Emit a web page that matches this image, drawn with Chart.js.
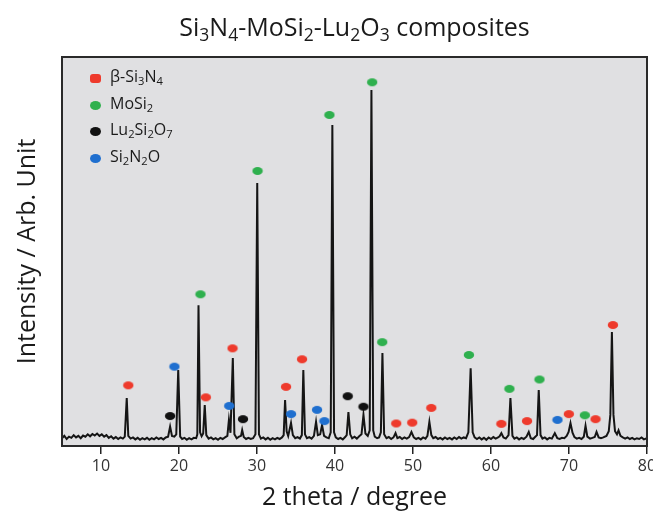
<!DOCTYPE html>
<html>
<head>
<meta charset="utf-8">
<script src="https://cdn.jsdelivr.net/npm/chart.js@4/dist/chart.umd.min.js"></script>
<style>
  html, body { margin: 0; padding: 0; background: #fff; }
  body { font-family: "Open Sans", "Noto Sans", sans-serif; color: #1a1a1a; }
  .wrap { position: relative; width: 653px; height: 514px; overflow: hidden; }
  .title { position: absolute; left: 62px; width: 585px; top: 9px; text-align: center; font-size: 25px; }
  sub { font-size: 70%; vertical-align: -0.28em; line-height: 0; }
  .legend { position: absolute; left: 90px; top: 63px; font-size: 16px; }
  .legend .row { height: 26.7px; line-height: 26px; white-space: nowrap; }
  .legend .mk { display: inline-block; width: 11px; height: 9px; border-radius: 50%; margin-right: 9px; vertical-align: -1px; }
</style>
</head>
<body>
<div class="wrap">
  <canvas id="xrd" width="653" height="514"></canvas>
  <div class="title">Si<sub>3</sub>N<sub>4</sub>-MoSi<sub>2</sub>-Lu<sub>2</sub>O<sub>3</sub> composites</div>
  <div class="legend">
    <div class="row"><span class="mk" style="background:#ee3a2c;border-radius:3px"></span>β-Si<sub>3</sub>N<sub>4</sub></div>
    <div class="row"><span class="mk" style="background:#2fb04e"></span>MoSi<sub>2</sub></div>
    <div class="row"><span class="mk" style="background:#111"></span>Lu<sub>2</sub>Si<sub>2</sub>O<sub>7</sub></div>
    <div class="row"><span class="mk" style="background:#1f6fcf"></span>Si<sub>2</sub>N<sub>2</sub>O</div>
  </div>
</div>
<script>
// x ticks (2 theta, degree)
const xTicks = [10, 20, 30, 40, 50, 60, 70, 80];

const scan = [
  [5.0, 2.0], [5.3, 2.6], [5.6, 1.8], [5.9, 2.4], [6.2, 2.1], [6.5, 2.8], [6.8, 2.2], [7.1, 2.6],
  [7.4, 2.0], [7.7, 2.7], [8.0, 2.4], [8.3, 3.0], [8.6, 2.5], [8.9, 3.1], [9.2, 2.7], [9.5, 3.2],
  [9.8, 2.6], [10.1, 3.0], [10.4, 2.4], [10.7, 2.8], [11.0, 2.1], [11.3, 2.5], [11.6, 1.9], [11.9, 2.3],
  [12.2, 1.8], [12.5, 2.2], [12.8, 1.9], [13.05, 2.4], [13.3, 12.3], [13.5, 2.6], [13.8, 1.9], [14.1, 2.2],
  [14.4, 1.7], [14.7, 2.1], [15.0, 1.6], [15.3, 2.0], [15.6, 1.7], [15.9, 2.1], [16.2, 1.6], [16.5, 2.0],
  [16.8, 1.7], [17.1, 2.2], [17.4, 1.8], [17.7, 2.1], [18.0, 1.7], [18.3, 2.2], [18.6, 2.4], [18.86, 5.0],
  [19.1, 2.6], [19.4, 2.4], [19.65, 3.0], [19.9, 19.5], [20.15, 2.4], [20.4, 1.8], [20.7, 2.1], [21.0, 1.6],
  [21.3, 2.0], [21.6, 1.7], [21.9, 2.1], [22.2, 2.0], [22.35, 3.0], [22.5, 36.2], [22.7, 3.5], [22.9, 2.5],
  [23.1, 3.2], [23.3, 10.5], [23.5, 2.8], [23.8, 1.9], [24.1, 2.2], [24.4, 1.7], [24.7, 2.0], [25.0, 1.6],
  [25.3, 2.1], [25.6, 1.8], [25.9, 2.2], [26.2, 2.6], [26.4, 6.7], [26.6, 3.4], [26.9, 22.6], [27.1, 3.0],
  [27.4, 2.0], [27.7, 2.4], [27.95, 2.6], [28.1, 4.1], [28.3, 2.3], [28.6, 1.8], [28.9, 2.1], [29.2, 1.8],
  [29.5, 2.0], [29.8, 3.0], [30.03, 67.6], [30.25, 3.0], [30.5, 1.9], [30.8, 2.2], [31.1, 1.7], [31.4, 2.1],
  [31.7, 1.6], [32.0, 2.0], [32.3, 1.7], [32.6, 2.1], [32.9, 1.8], [33.2, 2.2], [33.42, 2.8], [33.6, 11.8],
  [33.8, 3.8], [34.0, 2.6], [34.36, 5.9], [34.6, 2.8], [34.9, 2.0], [35.2, 2.3], [35.5, 1.9], [35.75, 2.8],
  [35.94, 19.5], [36.15, 3.0], [36.4, 2.0], [36.7, 2.3], [37.0, 1.9], [37.3, 2.6], [37.57, 6.2], [37.8, 2.8],
  [38.1, 3.0], [38.34, 5.4], [38.6, 2.6], [38.9, 2.2], [39.2, 2.0], [39.45, 3.5], [39.66, 82.5], [39.88, 3.5],
  [40.1, 2.2], [40.4, 1.8], [40.7, 2.1], [41.0, 1.7], [41.3, 2.3], [41.5, 2.8], [41.72, 8.7], [41.95, 3.0],
  [42.2, 2.0], [42.5, 2.4], [42.8, 1.9], [43.1, 2.5], [43.4, 3.0], [43.65, 8.0], [43.9, 3.2], [44.2, 2.6],
  [44.45, 4.0], [44.67, 91.5], [44.9, 4.0], [45.1, 2.4], [45.4, 2.0], [45.65, 2.2], [45.88, 3.5], [46.08, 23.9],
  [46.3, 3.0], [46.6, 2.0], [46.9, 2.3], [47.2, 1.8], [47.5, 2.2], [47.76, 3.3], [48.0, 2.0], [48.3, 2.3],
  [48.6, 1.8], [48.9, 2.2], [49.2, 1.9], [49.5, 2.3], [49.8, 3.6], [50.1, 2.2], [50.4, 1.8], [50.7, 2.1],
  [51.0, 1.7], [51.3, 2.2], [51.6, 1.9], [51.85, 2.6], [52.1, 6.2], [52.35, 2.8], [52.6, 2.0], [52.9, 2.3],
  [53.2, 1.8], [53.5, 2.1], [53.8, 1.7], [54.1, 2.2], [54.4, 1.8], [54.7, 2.1], [55.0, 1.7], [55.3, 2.2],
  [55.6, 1.8], [55.9, 2.3], [56.2, 1.9], [56.5, 2.2], [56.8, 2.0], [57.1, 3.5], [57.39, 20.0], [57.65, 3.5],
  [57.9, 2.2], [58.2, 1.8], [58.5, 2.2], [58.8, 1.7], [59.1, 2.1], [59.4, 1.6], [59.7, 2.2], [60.0, 1.8],
  [60.3, 2.3], [60.6, 1.9], [60.9, 2.2], [61.1, 2.5], [61.33, 3.3], [61.6, 2.2], [61.9, 1.9], [62.25, 2.8],
  [62.49, 12.3], [62.75, 2.6], [63.0, 1.9], [63.3, 2.2], [63.6, 1.7], [63.9, 2.1], [64.2, 1.8], [64.55, 2.4],
  [64.84, 3.6], [65.1, 2.0], [65.4, 1.8], [65.65, 2.3], [65.9, 2.8], [66.12, 14.4], [66.35, 2.8], [66.6, 1.9],
  [66.9, 2.2], [67.2, 1.7], [67.5, 2.1], [67.8, 1.9], [68.18, 3.3], [68.5, 2.0], [68.8, 1.8], [69.1, 2.1],
  [69.4, 2.0], [69.7, 2.6], [69.95, 3.6], [70.19, 5.9], [70.45, 3.4], [70.7, 2.3], [71.0, 1.9], [71.3, 2.1],
  [71.6, 1.8], [71.9, 2.4], [72.12, 5.2], [72.35, 2.4], [72.7, 1.9], [73.0, 2.1], [73.3, 2.3], [73.53, 3.6],
  [73.8, 2.2], [74.1, 2.0], [74.4, 2.2], [74.8, 2.6], [75.1, 3.8], [75.3, 8.0], [75.5, 29.3], [75.7, 8.0],
  [75.9, 3.8], [76.15, 3.0], [76.35, 4.0], [76.6, 2.6], [76.9, 2.2], [77.2, 1.9], [77.5, 2.2], [77.8, 1.8],
  [78.1, 2.1], [78.4, 1.7], [78.7, 2.0], [79.0, 1.8], [79.3, 2.2], [79.6, 1.7], [80.0, 2.0]
];

// phase markers, placed just above the peaks [2 theta, intensity]
const betaSi3N4 = [[13.5, 15.6], [23.44, 12.5], [26.86, 25.1], [33.72, 15.2], [35.77, 22.3], [47.85, 5.8],
  [49.9, 6.0], [52.34, 9.8], [61.33, 5.7], [64.62, 6.4], [69.98, 8.2], [73.4, 6.9], [75.63, 31.1]];
const moSi2 = [[22.75, 39.0], [30.07, 70.7], [39.28, 85.1], [44.76, 93.5], [46.05, 26.7], [57.17, 23.4],
  [62.36, 14.7], [66.21, 17.1], [72.03, 7.9]];
const lu2Si2O7 = [[18.86, 7.7], [28.2, 6.9], [41.63, 12.8], [43.65, 10.1]];
const si2N2O = [[19.41, 20.4], [26.44, 10.3], [34.36, 8.2], [37.7, 9.3], [38.64, 6.4], [68.52, 6.7]];

const FONT = '"Open Sans", "Noto Sans", sans-serif';

function dot(color) {
  const c = document.createElement('canvas');
  c.width = 12; c.height = 10;
  const g = c.getContext('2d');
  g.fillStyle = color;
  g.beginPath();
  g.ellipse(6, 5, 5.2, 4, 0, 0, Math.PI * 2);
  g.fill();
  return c;
}

function markers(list, color) {
  return {
    type: 'scatter',
    data: list.map(p => ({ x: p[0], y: p[1] })),
    pointStyle: dot(color),
    pointRadius: 5,
    order: 0,
  };
}

// grey plot area and dark frame
const plotFrame = {
  id: 'plotFrame',
  beforeDraw(chart) {
    const { ctx, chartArea: a } = chart;
    ctx.save();
    ctx.fillStyle = '#e0e0e2';
    ctx.fillRect(a.left, a.top, a.width, a.height);
    ctx.restore();
  },
  afterDraw(chart) {
    const { ctx, chartArea: a } = chart;
    ctx.save();
    ctx.strokeStyle = '#2a2a2a';
    ctx.lineWidth = 2;
    ctx.strokeRect(a.left, a.top, a.width, a.height);
    ctx.restore();
  }
};

new Chart(document.getElementById('xrd'), {
  type: 'line',
  data: {
    datasets: [
      markers(betaSi3N4, '#ee3a2c'),
      markers(moSi2, '#2fb04e'),
      markers(lu2Si2O7, '#111111'),
      markers(si2N2O, '#1f6fcf'),
      {
        type: 'line',
        data: scan.map(p => ({ x: p[0], y: p[1] })),
        borderColor: '#151515',
        borderWidth: 2,
        pointRadius: 0,
        tension: 0,
        order: 5,
      }
    ]
  },
  options: {
    responsive: false,
    animation: false,
    layout: { padding: { top: 57, right: 6, bottom: 0, left: 0 }, autoPadding: false },
    plugins: { legend: { display: false }, tooltip: { enabled: false } },
    scales: {
      x: {
        type: 'linear', min: 5, max: 80,
        afterBuildTicks: s => { s.ticks = xTicks.map(v => ({ value: v })); },
        afterFit: s => { s.height = 68; s.paddingLeft = 0; s.paddingRight = 0; },
        ticks: { color: '#333', font: { family: FONT, size: 16 }, padding: 3, maxRotation: 0, autoSkip: false },
        grid: { display: true, drawOnChartArea: false, drawTicks: true, tickLength: 8, color: '#222', lineWidth: 1.5 },
        border: { display: false },
        title: { display: true, text: '2 theta / degree', color: '#1a1a1a', font: { family: FONT, size: 25 }, padding: { top: 0, bottom: 1 } }
      },
      y: {
        min: 0, max: 100,
        afterFit: s => { s.width = 62; s.paddingTop = 0; s.paddingBottom = 0; },
        ticks: { display: false },
        grid: { display: false },
        border: { display: false },
        title: { display: true, text: 'Intensity / Arb. Unit', color: '#1a1a1a', font: { family: FONT, size: 25 }, padding: { top: 13, bottom: 0 } }
      }
    }
  },
  plugins: [plotFrame]
});
</script>
</body>
</html>
